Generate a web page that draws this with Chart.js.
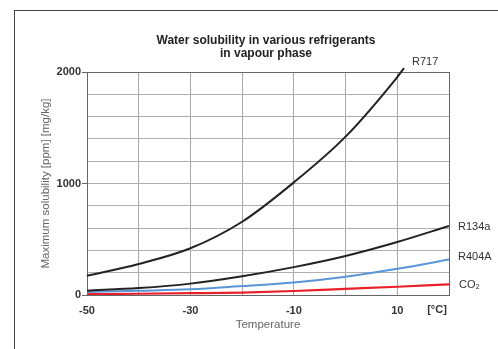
<!DOCTYPE html>
<html><head><meta charset="utf-8">
<script src="https://cdn.jsdelivr.net/npm/chart.js@4/dist/chart.umd.min.js"></script>
<style>
html,body{margin:0;padding:0;background:#fff;overflow:hidden;}
#wrap{position:relative;width:498px;height:349px;overflow:hidden;}
#frame{position:absolute;left:14px;top:10px;width:484px;height:339px;border-top:1px solid #444;border-left:1px solid #444;box-sizing:border-box;pointer-events:none;}
canvas{position:absolute;left:0;top:0;}
</style></head><body>
<div id="wrap"><canvas id="c" width="498" height="349"></canvas><div id="frame"></div></div>
<script>
// ---- data ----
const temperatures = [-50, -40, -30, -20, -10, 0, 10, 20];
const r717Temps    = [-50, -40, -30, -20, -10, 0, 10, 11.3];
const r717  = [172, 278, 419, 657, 1010, 1420, 1955, 2035];
const r134a = [39, 62, 102, 168, 250, 350, 475, 619];
const r404a = [27, 38, 51, 80, 112, 164, 235, 318];
const co2   = [8, 11, 16, 22, 36, 55, 74, 96];
const seriesNames = ['R717', 'R134a', 'R404A', 'CO₂'];
const xTickLabels = {'-50': '-50', '-30': '-30', '-10': '-10', '10': '10'};
const xUnitLabel = '[°C]';
const yTickLabels = {'0': '0', '1000': '1000', '2000': '2000'};
const titleLines = ['Water solubility in various refrigerants', 'in vapour phase'];
const xTitle = 'Temperature';
const yTitle = 'Maximum solubility [ppm] [mg/kg]';

const toPts = (xs, ys) => xs.map((x, i) => ({x: x, y: ys[i]}));

Chart.defaults.font.family = "'Liberation Sans', Arial, sans-serif";

const labelOffsets = [
  {dx: 8, dy: -6},
  {dx: 9, dy: 1},
  {dx: 9, dy: -3},
  {dx: 10, dy: 1}
];

const titlePlugin = {
  id: 'centeredTitle',
  afterDraw(chart) {
    const ctx = chart.ctx, a = chart.chartArea;
    ctx.save();
    ctx.font = "bold 12px 'Liberation Sans', Arial, sans-serif";
    ctx.fillStyle = '#222';
    ctx.textAlign = 'center';
    ctx.textBaseline = 'middle';
    const cx = (a.left + a.right) / 2 - 2;
    titleLines.forEach((t, i) => ctx.fillText(t, cx, 41 + i * 13));
    ctx.restore();
  }
};

const seriesLabelPlugin = {
  id: 'seriesLabels',
  afterDatasetsDraw(chart) {
    const ctx = chart.ctx;
    ctx.save();
    ctx.font = "11px 'Liberation Sans', Arial, sans-serif";
    ctx.fillStyle = '#333';
    ctx.textAlign = 'left';
    ctx.textBaseline = 'middle';
    chart.data.datasets.forEach((ds, i) => {
      const meta = chart.getDatasetMeta(i);
      const pt = meta.data[meta.data.length - 1];
      const o = labelOffsets[i];
      ctx.fillText(seriesNames[i], pt.x + o.dx, pt.y + o.dy);
    });
    const xs = chart.scales.x;
    ctx.font = "bold 11px 'Liberation Sans', Arial, sans-serif";
    ctx.textAlign = 'center';
    ctx.fillText(xUnitLabel, xs.getPixelForValue(20) - 12, 310);
    ctx.restore();
  }
};

new Chart(document.getElementById('c'), {
  type: 'line',
  data: {
    datasets: [
      {label: seriesNames[0], data: toPts(r717Temps, r717), borderColor: '#222', borderWidth: 2, clip: 8},
      {label: seriesNames[1], data: toPts(temperatures, r134a), borderColor: '#222', borderWidth: 2},
      {label: seriesNames[2], data: toPts(temperatures, r404a), borderColor: '#5a95d8', borderWidth: 2},
      {label: seriesNames[3], data: toPts(temperatures, co2), borderColor: '#e8202a', borderWidth: 2.2}
    ]
  },
  options: {
    responsive: false,
    animation: false,
    layout: {padding: {left: 0, right: 49, top: 72, bottom: 0}},
    elements: {point: {radius: 0}, line: {cubicInterpolationMode: 'monotone', fill: false}},
    plugins: {
      legend: {display: false},
      tooltip: {enabled: false},
      title: {display: false}
    },
    scales: {
      x: {
        type: 'linear',
        min: -50, max: 20,
        afterFit: s => { s.height = 54; },
        border: {color: '#666', width: 1},
        grid: {
          drawTicks: false,
          color: c => (c.tick && c.tick.value === 20) ? '#666' : '#a8a8a8'
        },
        ticks: {
          stepSize: 10,
          padding: 9,
          color: '#333',
          font: {size: 11, weight: 'bold'},
          maxRotation: 0,
          autoSkip: false,
          callback: v => (xTickLabels[String(v)] !== undefined ? xTickLabels[String(v)] : '')
        },
        title: {display: true, text: xTitle, color: '#666', font: {size: 11.5}, padding: {top: 0, bottom: 17.5}}
      },
      y: {
        min: 0, max: 2000,
        afterFit: s => { s.width = 87; },
        border: {color: '#666', width: 1},
        grid: {
          tickLength: 5,
          color: c => (c.tick && c.tick.value === 2000) ? '#666' : '#b0b0b0',
          tickColor: c => (c.tick && yTickLabels[String(c.tick.value)] !== undefined) ? '#666' : 'rgba(0,0,0,0)'
        },
        ticks: {
          stepSize: 200,
          padding: 1,
          color: '#333',
          font: {size: 11, weight: 'bold'},
          autoSkip: false,
          callback: v => (yTickLabels[String(v)] !== undefined ? yTickLabels[String(v)] : '')
        },
        title: {display: true, text: yTitle, color: '#666', font: {size: 11.5}, padding: {top: 38.5, bottom: 0}}
      }
    }
  },
  plugins: [titlePlugin, seriesLabelPlugin]
});
</script>
</body></html>
